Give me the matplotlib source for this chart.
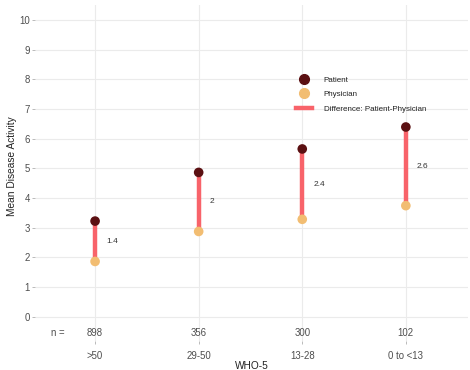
import matplotlib
matplotlib.use("Agg")
import matplotlib.pyplot as plt
from matplotlib.lines import Line2D

plt.rcParams["font.family"] = ["Liberation Sans", "DejaVu Sans"]

# data
groups = [">50", "29-50", "13-28", "0 to <13"]
n_labels = ["898", "356", "300", "102"]
patient = [3.22, 4.86, 5.65, 6.39]
physician = [1.86, 2.87, 3.28, 3.74]
diff_labels = ["1.4", "2", "2.4", "2.6"]

c_pat = "#5b1012"
c_phy = "#f2bd72"
c_diff = "#f8636a"
txt = "#4d4d4d"

fig = plt.figure(figsize=(4.7, 3.7), dpi=100)
ax = fig.add_axes([35 / 470, 1 - 341 / 370, 433 / 470, 336 / 370])

x = list(range(1, len(groups) + 1))
ax.vlines(x, physician, patient, color=c_diff, lw=3.2, zorder=2)
ax.scatter(x, patient, s=48, color=c_pat, zorder=3, edgecolors="none")
ax.scatter(x, physician, s=48, color=c_phy, zorder=3, edgecolors="none")

for xi, p, q, lab, n in zip(x, patient, physician, diff_labels, n_labels):
    ax.text(xi + 0.105, (p + q) / 2, lab, fontsize=6, color="#333333",
            ha="left", va="center")
    ax.text(xi, -0.54, n, fontsize=6.9, color=txt, ha="center", va="center")
ax.text(0.64, -0.54, "n =", fontsize=6.9, color=txt, ha="center", va="center")

ax.set_xlim(0.42, 4.6)
ax.set_ylim(-0.82, 10.5)
ax.set_yticks(range(0, 11))
ax.set_xticks(x)
ax.set_xticklabels(groups)
ax.tick_params(axis="both", labelsize=6.9, colors="#b0b0b0", labelcolor=txt,
               length=2, width=0.6, pad=1.5)
ax.tick_params(axis="x", pad=5)

ax.xaxis.grid(True, color="#ebebeb", lw=0.8, zorder=0)
ax.set_axisbelow(True)
# horizontal grid only within 0..10 region
ax.hlines(range(0, 11), 0.42, 4.6, color="#ebebeb", lw=0.8, zorder=0)
for s in ax.spines.values():
    s.set_visible(False)

ax.set_ylabel("Mean Disease Activity", fontsize=7.3, color="#222222")
ax.yaxis.set_label_coords(-0.042, 0.52)
ax.set_xlabel("WHO-5", fontsize=7.3, color="#222222", labelpad=0)

handles = [
    Line2D([], [], ls="none", marker="o", ms=7, color=c_pat),
    Line2D([], [], ls="none", marker="o", ms=7, color=c_phy),
    Line2D([], [], color=c_diff, lw=3.2),
]
ax.legend(handles, ["Patient", "Physician", "Difference: Patient-Physician"],
          loc="upper left", bbox_to_anchor=(0.585, 0.81), frameon=False,
          fontsize=5.8, handlelength=2.0, labelspacing=0.85, handletextpad=1.5,
          labelcolor="#222222")

fig.savefig("out.png", dpi=100)
